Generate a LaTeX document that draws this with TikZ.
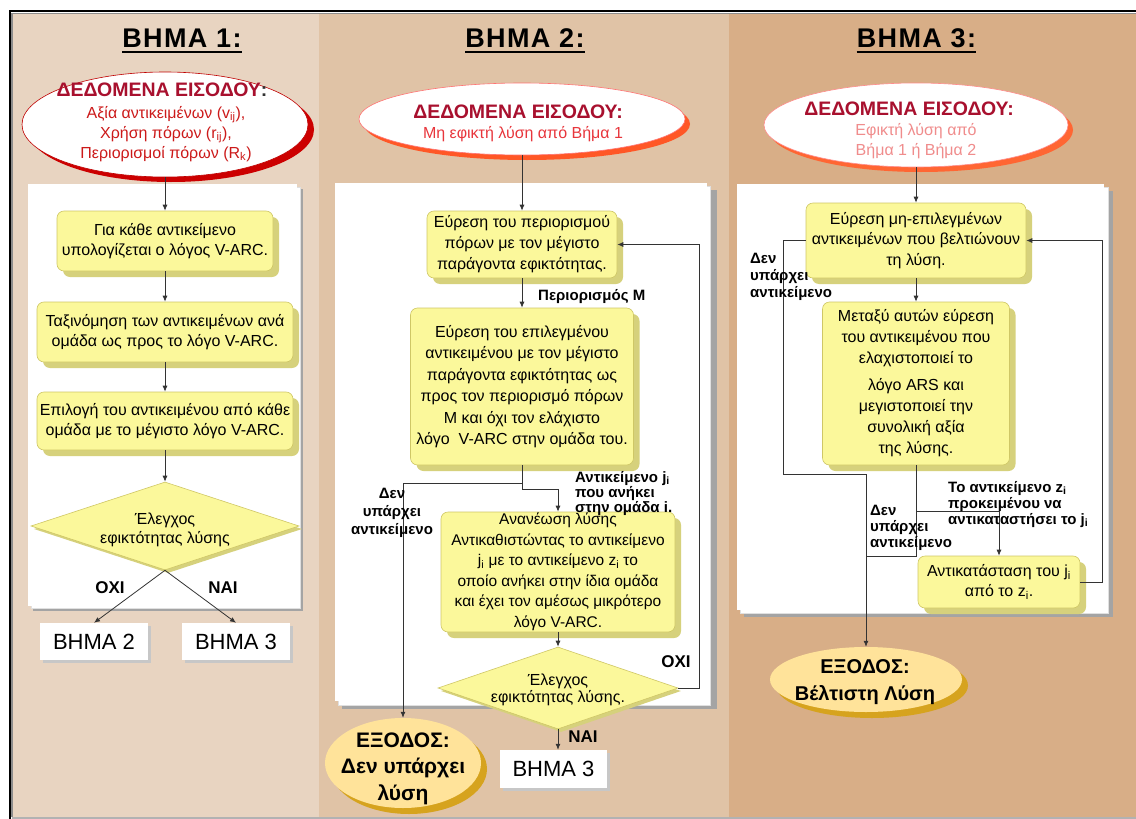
\documentclass[tikz,border=0pt]{standalone}
\usepackage{fontspec}
\setmainfont{Liberation Sans}
\usetikzlibrary{shapes.geometric,shadows,arrows.meta,calc}

\definecolor{panelA}{HTML}{E8D4C1}
\definecolor{panelB}{HTML}{E0C3A6}
\definecolor{panelC}{HTML}{D8AE87}
\definecolor{boxfill}{HTML}{FBF89B}
\definecolor{boxedge}{HTML}{CFC766}
\definecolor{boxshadow}{HTML}{D6D17C}
\definecolor{linegray}{HTML}{333333}
\definecolor{titleRed}{HTML}{A8102E}
\definecolor{bodyRed}{HTML}{CC1A1A}
\definecolor{subRed}{HTML}{E8363C}
\definecolor{pinkRed}{HTML}{F08C8C}
\definecolor{outfill}{HTML}{FFE39A}
\definecolor{outshadow}{HTML}{D6A31E}
\definecolor{sheetshadow}{HTML}{A4A4A4}

\newcommand\fs[2]{\fontsize{#1}{#2}\selectfont}

\tikzset{
  conn/.style={draw=linegray, line width=0.8pt},
  arr/.style={conn, -{Latex[length=6pt,width=5pt]}},
  stepbox/.style={rectangle, rounded corners=7pt, draw=boxedge, line width=0.6pt,
    fill=boxfill, align=center, inner sep=0pt, font=\fs{16}{20.5},
    drop shadow={shadow xshift=6pt, shadow yshift=-6pt, fill=boxshadow, opacity=1}},
  testbox/.style={diamond, draw=boxedge, line width=0.6pt, fill=boxfill, inner sep=0pt,
    drop shadow={shadow xshift=3pt, shadow yshift=-3pt, fill=boxshadow, opacity=1}},
  inputell/.style={ellipse, fill=white, inner sep=0pt, line width=0.6pt},
  outputell/.style={ellipse, fill=outfill, inner sep=0pt,
    drop shadow={shadow xshift=6pt, shadow yshift=-6pt, fill=outshadow, opacity=1}},
  gotobox/.style={rectangle, fill=white, inner sep=0pt, font=\fs{22}{24},
    drop shadow={shadow xshift=2.5pt, shadow yshift=-2.5pt, fill=black!22, opacity=1}},
  steptitle/.style={anchor=base, inner sep=0pt, font=\bfseries\fs{27}{30}\addfontfeature{LetterSpace=5}},
  lbl/.style={inner sep=0pt, font=\bfseries\fs{15}{16}},
  yesno/.style={inner sep=0pt, anchor=base, font=\bfseries\fs{17}{18}},
  txt/.style={inner sep=0pt, anchor=base, align=center}
}

\begin{document}
\begin{tikzpicture}[x=1pt, y=-1pt]
\useasboundingbox (0,0) rectangle (1136,819);

% page and the three step columns
\fill[white] (0,0) rectangle (1136,819);
\fill[panelA] (12,13) rectangle (319,817);
\fill[panelB] (319,13) rectangle (729,817);
\fill[panelC] (729,13) rectangle (1136,817);
\draw[black!45, line width=1.5pt] (12,13.5) -- (1136,13.5);
\draw[black!30, line width=2.5pt] (12,818) -- (1136,818);
\draw[black!45, line width=1.5pt] (12,13) -- (12,817);
\draw[black, line width=2.2pt] (10,819) -- (10,11) -- (1136,11);

% paper sheets behind each flow
\fill[sheetshadow] (33,189) rectangle (303,611);
\filldraw[fill=white, draw=black!12] (31,187) rectangle (300,608);
\fill[white] (28,184) rectangle (297,606);
\fill[sheetshadow] (342,190) rectangle (717,709);
\filldraw[fill=white, draw=black!12] (338,186) rectangle (710,705);
\fill[white] (335,183) rectangle (707,701);
\fill[sheetshadow] (744,191) rectangle (1113,617);
\filldraw[fill=white, draw=black!12] (740,187) rectangle (1108,613);
\fill[white] (737,184) rectangle (1104,610);

% ---------------- step 1 ----------------
\node[steptitle] (h1) at (182,47) {ΒΗΜΑ 1:};
\draw[line width=1.6pt] ([yshift=-5pt]h1.base west) -- ([yshift=-5pt]h1.base east);

\node[inputell, draw=red!75!black, minimum width=286, minimum height=105,
  drop shadow={shadow xshift=6pt, shadow yshift=-5pt, fill=red!80!black, opacity=1}] (e1) at (165,124.5) {};
\node[txt, font=\bfseries\fs{19.5}{20}, text=titleRed] (e1a) at (162,96) {ΔΕΔΟΜΕΝΑ ΕΙΣΟΔΟΥ{\color{black!80}:}};
\node[txt, font=\fs{16}{20}, text=bodyRed] (e1b) at (166,158)
  {Αξία αντικειμένων (v\textsubscript{ij}),\\Χρήση πόρων (r\textsubscript{ij}),\\Περιορισμοί πόρων (R\textsubscript{k})};

\node[stepbox, minimum width=216, minimum height=60] (a1) at (165,241)
  {Για κάθε αντικείμενο\\υπολογίζεται ο λόγος V-ARC.};
\node[stepbox, minimum width=256, minimum height=60] (a2) at (165,332)
  {Ταξινόμηση των αντικειμένων ανά\\ομάδα ως προς το λόγο V-ARC.};
\node[stepbox, minimum width=256, minimum height=58] (a3) at (165,421)
  {Επιλογή του αντικειμένου από κάθε\\ομάδα με το μέγιστο λόγο V-ARC.};
\node[testbox, minimum width=268, minimum height=88] (d1) at (165,526) {};
\node[txt, font=\fs{16}{19}] (d1t) at (165,543) {Έλεγχος\\εφικτότητας λύσης};

\node[gotobox, minimum width=108, minimum height=37] (g12) at (94,641.5) {ΒΗΜΑ 2};
\node[gotobox, minimum width=108, minimum height=37] (g13) at (236,641.5) {ΒΗΜΑ 3};

\draw[arr] (e1) -- (a1);
\draw[arr] (a1) -- (a2);
\draw[arr] (a2) -- (a3);
\draw[arr] (a3) -- (d1);
\draw[arr] (d1.south) -- (g12.north);
\draw[arr] (d1.south) -- (g13.north);
\node[yesno] (n1) at (110,593) {ΟΧΙ};
\node[yesno] (y1) at (223,593) {ΝΑΙ};

% ---------------- step 2 ----------------
\node[steptitle] (h2) at (525,47) {ΒΗΜΑ 2:};
\draw[line width=1.6pt] ([yshift=-5pt]h2.base west) -- ([yshift=-5pt]h2.base east);

\node[inputell, draw=red!55, minimum width=326, minimum height=72,
  drop shadow={shadow xshift=5pt, shadow yshift=-5pt, fill=red!55!orange!85, opacity=1}] (e2) at (522,119) {};
\node[txt, font=\bfseries\fs{19.5}{20}, text=titleRed] (e2a) at (518,118) {ΔΕΔΟΜΕΝΑ ΕΙΣΟΔΟΥ:};
\node[txt, font=\fs{16}{20}, text=subRed] (e2b) at (523,138) {Μη εφικτή λύση από Βήμα 1};

\node[stepbox, minimum width=190, minimum height=67, font=\fs{16}{21}] (b1) at (522,244.5)
  {Εύρεση του περιορισμού\\πόρων με τον μέγιστο\\παράγοντα εφικτότητας.};
\node[stepbox, minimum width=223, minimum height=157, font=\fs{16}{21.5}] (b2) at (522,386.5)
  {Εύρεση του επιλεγμένου\\αντικειμένου με τον μέγιστο\\παράγοντα εφικτότητας ως\\προς τον περιορισμό πόρων\\M και όχι τον ελάχιστο\\λόγο \ V-ARC στην ομάδα του.};
\node[stepbox, minimum width=234, minimum height=120, font=\fs{15.5}{20.5}] (b3) at (558,572)
  {Ανανέωση λύσης\\Αντικαθιστώντας το αντικείμενο\\j\textsubscript{i} με το αντικείμενο z\textsubscript{i} το\\οποίο ανήκει στην ίδια ομάδα\\και έχει τον αμέσως μικρότερο\\λόγο V-ARC.};
\node[testbox, minimum width=240, minimum height=82] (d2) at (558,688) {};
\node[txt, font=\fs{16}{17}] (d2t) at (558,702) {Έλεγχος\\εφικτότητας λύσης.};

\node[gotobox, minimum width=107, minimum height=38] (g23) at (553.5,769) {ΒΗΜΑ 3};
\node[outputell, minimum width=156, minimum height=90] (x2) at (403,763) {};
\node[txt, font=\bfseries\fs{21}{26.5}] (x2t) at (403,800) {ΕΞΟΔΟΣ:\\Δεν υπάρχει\\λύση};

\coordinate (s2a) at (522,483);
\coordinate (s2b) at (522,489);
\coordinate (r2) at (699,688);

\draw[arr] (e2) -- (b1);
\draw[arr] (b1) -- (b2);
\draw[conn] (b2.south) -- (s2b);
\draw[arr] (s2a) -| (x2.north);
\draw[arr] (s2b) -| (b3.north);
\draw[arr] (b3) -- (d2);
\draw[arr] (d2.east) -- (r2) |- (b1.east);
\draw[arr] (d2.south) -- (d2.south |- g23.north);

\node[lbl, anchor=base west] (l2a) at (538,300) {Περιορισμός M};
\node[lbl, anchor=base, align=center, font=\bfseries\fs{15}{18}] (l2b) at (392,534) {Δεν\\υπάρχει\\αντικείμενο};
\node[lbl, anchor=base west, align=left, font=\bfseries\fs{15}{15}] (l2c) at (575,512)
  {Αντικείμενο j\textsubscript{i}\\που ανήκει\\στην ομάδα i.};
\node[yesno] (n2) at (676,667) {ΟΧΙ};
\node[yesno] (y2) at (583,742) {ΝΑΙ};

% ---------------- step 3 ----------------
\node[steptitle] (h3) at (916.5,47) {ΒΗΜΑ 3:};
\draw[line width=1.6pt] ([yshift=-5pt]h3.base west) -- ([yshift=-5pt]h3.base east);

\node[inputell, draw=red!45, minimum width=304, minimum height=84,
  drop shadow={shadow xshift=5pt, shadow yshift=-5pt, fill=red!50!orange!80, opacity=1}] (e3) at (916,125) {};
\node[txt, font=\bfseries\fs{19.5}{20}, text=titleRed] (e3a) at (909,115) {ΔΕΔΟΜΕΝΑ ΕΙΣΟΔΟΥ:};
\node[txt, font=\fs{16}{20}, text=pinkRed] (e3b) at (916,155) {Εφικτή λύση από\\Βήμα 1 ή Βήμα 2};

\node[stepbox, minimum width=220, minimum height=75] (c1) at (916,240.5)
  {Εύρεση μη-επιλεγμένων\\αντικειμένων που βελτιώνουν\\τη λύση.};
\node[stepbox, minimum width=187, minimum height=163, font=\fs{16}{21}] (c2) at (916,383.5)
  {Μεταξύ αυτών εύρεση\\του αντικειμένου που\\ελαχιστοποιεί το\\[6pt]λόγο ARS και\\μεγιστοποιεί την\\συνολική αξία\\της λύσης.};
\node[stepbox, minimum width=162, minimum height=52, font=\fs{16}{20}] (c3) at (999,582)
  {Αντικατάσταση του j\textsubscript{i}\\από το z\textsubscript{i}.};
\node[outputell, minimum width=192, minimum height=65] (x3) at (866,679.5) {};
\node[txt, font=\bfseries\fs{20}{27}] (x3t) at (865,700) {ΕΞΟΔΟΣ:\\Βέλτιστη Λύση};

\coordinate (l3) at (783,474);
\coordinate (m3) at (916,556);
\coordinate (q3) at (916,511);
\coordinate (r3) at (1102,582);

\draw[arr] (e3) -- (c1);
\draw[arr] (c1) -- (c2);
\draw[arr] (c1.west) -| (l3) -| (x3.north);
\draw[conn] (c2.south) -- (m3) -- (m3 -| x3.north);
\draw[arr] (q3) -| (c3.north);
\draw[arr] (c3.east) -- (r3) |- (c1.east);

\node[lbl, anchor=base west, align=left, font=\bfseries\fs{15}{17}] (l3a) at (750,297) {Δεν\\υπάρχει\\αντικείμενο};
\node[lbl, anchor=base west, align=left, font=\bfseries\fs{15}{16}] (l3b) at (870,547) {Δεν\\υπάρχει\\αντικείμενο};
\node[lbl, anchor=base west, align=left, font=\bfseries\fs{15}{16}] (l3c) at (948,524)
  {Το αντικείμενο z\textsubscript{i}\\προκειμένου να\\αντικαταστήσει το j\textsubscript{i}};
\end{tikzpicture}
\end{document}
